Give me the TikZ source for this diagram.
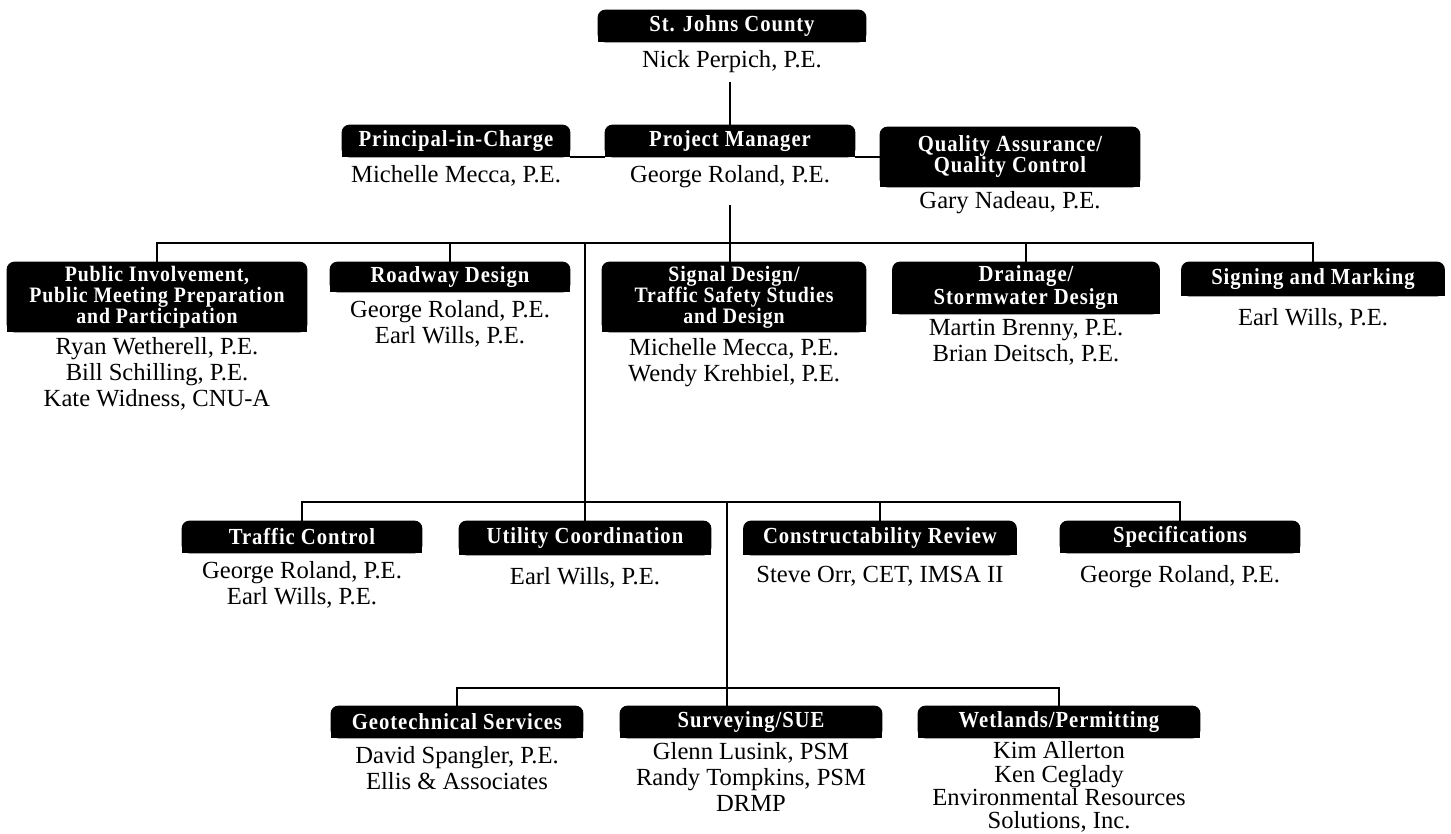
\documentclass[tikz,border=0pt]{standalone}
\usepackage{fontspec}
\setmainfont{Liberation Serif}
\newfontfamily\headfam[LetterSpace=4.0,FakeStretch=0.9]{Liberation Serif}
\usetikzlibrary{positioning,backgrounds}

\begin{document}
\begin{tikzpicture}[
  x=0.5pt, y=-0.5pt,
  headbox/.style={text=white,align=center,inner sep=0pt,
    font=\headfam\bfseries\fontsize{11.5}{10.5}\selectfont,minimum height=16pt},
  tallbox/.style={headbox,minimum height=35pt,
    font=\headfam\bfseries\fontsize{11}{10.5}\selectfont},
  namelist/.style={align=center,inner sep=1pt,font=\fontsize{12.3}{13}\selectfont},
  link/.style={line width=1pt}
]
\useasboundingbox (0,0) rectangle (1451,834);

% ---- county and project leads ----
\node[headbox,minimum width=134pt] (stj) at (732,26) {St. Johns County};
\node[namelist,below=3pt of stj] (stjn) {Nick Perpich, P.E.};

\node[headbox,minimum width=114pt] (pic) at (456,141) {Principal-in-Charge};
\node[namelist,below=3pt of pic] (picn) {Michelle Mecca, P.E.};
\node[headbox,minimum width=125pt] (pm) at (730,141) {Project Manager};
\node[namelist,below=3pt of pm] (pmn) {George Roland, P.E.};
\node[headbox,minimum width=130pt,minimum height=30pt] (qa) at (1010,157)
  {Quality Assurance/\\Quality Control};
\node[namelist,below=1pt of qa] (qan) {Gary Nadeau, P.E.};

% ---- first row of disciplines ----
\node[tallbox,minimum width=150pt] (pub) at (157,297)
  {Public Involvement,\\Public Meeting Preparation\\and Participation};
\node[namelist,below=1.5pt of pub] (pubn)
  {Ryan Wetherell, P.E.\\Bill Schilling, P.E.\\Kate Widness, CNU-A};
\node[headbox,minimum width=120pt,minimum height=15pt] (road) at (450,277) {Roadway Design};
\node[namelist,below=3pt of road] (roadn) {George Roland, P.E.\\Earl Wills, P.E.};
\node[tallbox,minimum width=132pt] (sig) at (734,297)
  {Signal Design/\\Traffic Safety Studies\\and Design};
\node[namelist,below=2pt of sig] (sign) {Michelle Mecca, P.E.\\Wendy Krehbiel, P.E.};
\node[headbox,minimum width=133.5pt,minimum height=26pt] (drain) at (1026,288)
  {Drainage/\\Stormwater Design};
\node[namelist,below=1pt of drain] (drainn) {Martin Brenny, P.E.\\Brian Deitsch, P.E.};
\node[headbox,minimum width=131.5pt,minimum height=17pt] (mark) at (1313,279) {Signing and Marking};
\node[namelist,below=5pt of mark] (markn) {Earl Wills, P.E.};

% ---- second row ----
\node[headbox,minimum width=120pt] (traf) at (302,537) {Traffic Control};
\node[namelist,below=3pt of traf] (trafn) {George Roland, P.E.\\Earl Wills, P.E.};
\node[headbox,minimum width=126pt,minimum height=17pt] (util) at (585,538) {Utility Coordination};
\node[namelist,below=5pt of util] (utiln) {Earl Wills, P.E.};
\node[headbox,minimum width=136.5pt,minimum height=17pt] (cons) at (880,538) {Constructability Review};
\node[namelist,below=4pt of cons] (consn) {Steve Orr, CET, IMSA II};
\node[headbox,minimum width=120pt] (spec) at (1180,537) {Specifications};
\node[namelist,below=5pt of spec] (specn) {George Roland, P.E.};

% ---- third row ----
\node[headbox,minimum width=126pt] (geo) at (457,722) {Geotechnical Services};
\node[namelist,below=3pt of geo] (geon) {David Spangler, P.E.\\Ellis \& Associates};
\node[headbox,minimum width=131pt] (surv) at (751,722) {Surveying/SUE};
\node[namelist,below=1pt of surv] (survn) {Glenn Lusink, PSM\\Randy Tompkins, PSM\\DRMP};
\node[headbox,minimum width=141pt] (wet) at (1059,722) {Wetlands/Permitting};
\node[namelist,below=0.5pt of wet,font=\fontsize{12.3}{11.6}\selectfont] (wetn)
  {Kim Allerton\\Ken Ceglady\\Environmental Resources\\Solutions, Inc.};

% black tabs, square at the bottom
\begin{scope}[on background layer]
  \foreach \b in {stj,pic,pm,qa,pub,road,sig,drain,mark,traf,util,cons,spec,geo,surv,wet} {
    \fill[rounded corners=4pt] (\b.south west) rectangle (\b.north east);
    \fill (\b.south west) rectangle (\b.east);
  }
\end{scope}

% ---- connectors ----
\coordinate (bus1) at (730,243);
\coordinate (bus2) at (585,502);
\coordinate (bus3) at (727,688);

\draw[link] (pm.north |- 0,82) -- (pm.north);
\draw[link] (pic.south east) -- (pm.south west);
\draw[link] (pm.south east) -- (pm.south east -| qa.west);

\draw[link] (bus1 |- 0,205) -- (bus1 |- sig.north);
\draw[link] (pub.north) |- (bus1) -| (mark.north);
\draw[link] (road.north) -- (road.north |- bus1);
\draw[link] (drain.north) -- (drain.north |- bus1);

\draw[link] (util.north |- bus1) -- (util.north);
\draw[link] (traf.north) |- (bus2) -| (spec.north);
\draw[link] (cons.north) -- (cons.north |- bus2);

\draw[link] (bus2 -| bus3) -- (bus3 |- surv.north);
\draw[link] (geo.north) |- (bus3) -| (wet.north);

\end{tikzpicture}
\end{document}
